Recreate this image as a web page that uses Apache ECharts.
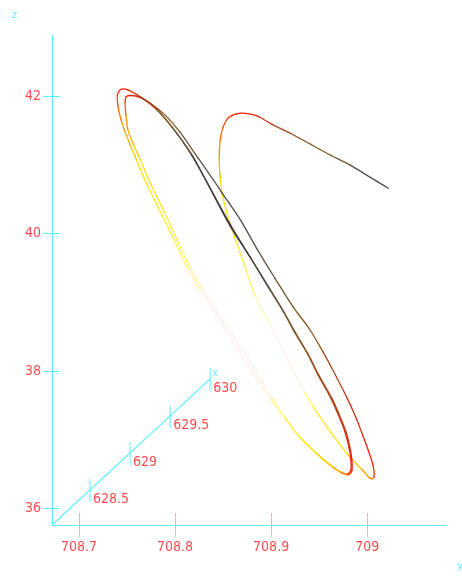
<!DOCTYPE html>
<html>
<head>
<meta charset="utf-8">
<script src="https://cdn.jsdelivr.net/npm/echarts@6/dist/echarts.min.js"></script>
<style>
  html, body { margin: 0; padding: 0; background: #ffffff; }
  #chart { width: 462px; height: 577px; }
</style>
</head>
<body>
<div id="chart"></div>
<script>
// Axis ticks of the three-dimensional box
const yTicks = [708.7, 708.8, 708.9, 709];
const zTicks = [36, 38, 40, 42];
const xTicks = [628.5, 629, 629.5, 630];

// Axis extents
const yRange = [708.672, 709.083];
const zRange = [35.76, 42.89];
const xRange = [628.025, 630];

// The depth (x) axis is drawn obliquely: shift in (y, z) per unit of x
const depthDir = [0.08333, 1.0764];

// Trajectory in the projected (y, z) plane, with its colour value
const pathY = [
  709.022, 709.003, 708.982, 708.962, 708.941, 708.920, 708.901, 708.886, 708.873, 708.863,
  708.855, 708.850, 708.847, 708.846, 708.847, 708.850, 708.856, 708.865, 708.874, 708.883,
  708.899, 708.920, 708.935, 708.944, 708.962, 708.980, 708.995, 709.003, 709.007, 709.006,
  709.001, 708.996, 708.988, 708.979, 708.967, 708.954, 708.939, 708.923, 708.904, 708.886,
  708.868, 708.849, 708.840, 708.824, 708.805, 708.790, 708.774, 708.762, 708.753, 708.749,
  708.748, 708.749, 708.751, 708.757, 708.764, 708.775, 708.789, 708.803, 708.816, 708.829,
  708.855, 708.880, 708.901, 708.914, 708.929, 708.946, 708.962, 708.972, 708.979, 708.983,
  708.983, 708.981, 708.977, 708.970, 708.962, 708.949, 708.938, 708.925, 708.913, 708.897,
  708.878, 708.857, 708.833, 708.816, 708.797, 708.779, 708.764, 708.751, 708.744, 708.740,
  708.741, 708.744, 708.748, 708.754, 708.760, 708.771, 708.785, 708.800, 708.813, 708.826,
  708.853, 708.878, 708.900, 708.914, 708.930, 708.948, 708.964, 708.974, 708.980, 708.984,
  708.984, 708.982, 708.978, 708.971, 708.963, 708.950, 708.939, 708.926, 708.914, 708.898,
  708.879, 708.858, 708.834, 708.817, 708.798, 708.781, 708.766
];
const pathZ = [
  40.66, 40.82, 41.00, 41.14, 41.30, 41.46, 41.59, 41.71, 41.75, 41.74,
  41.68, 41.55, 41.36, 41.10, 40.81, 40.52, 40.20, 39.83, 39.47, 39.11,
  38.67, 38.09, 37.69, 37.48, 37.11, 36.78, 36.56, 36.44, 36.46, 36.63,
  36.85, 37.04, 37.33, 37.61, 37.94, 38.28, 38.63, 38.93, 39.35, 39.76,
  40.20, 40.59, 40.78, 41.10, 41.48, 41.72, 41.90, 41.99, 42.01, 41.99,
  41.90, 41.72, 41.51, 41.29, 41.07, 40.71, 40.31, 39.88, 39.50, 39.18,
  38.63, 38.09, 37.61, 37.33, 37.05, 36.82, 36.63, 36.53, 36.50, 36.56,
  36.71, 36.89, 37.11, 37.36, 37.61, 37.94, 38.25, 38.55, 38.86, 39.22,
  39.66, 40.12, 40.75, 41.17, 41.55, 41.83, 41.99, 42.09, 42.10, 42.01,
  41.83, 41.65, 41.48, 41.27, 41.07, 40.71, 40.31, 39.88, 39.50, 39.18,
  38.60, 38.04, 37.58, 37.32, 37.04, 36.79, 36.60, 36.52, 36.49, 36.55,
  36.71, 36.89, 37.11, 37.36, 37.61, 37.93, 38.23, 38.54, 38.84, 39.21,
  39.64, 40.12, 40.73, 41.16, 41.53, 41.81, 41.97
];
const pathC = [
  0.05, 0.08, 0.15, 0.22, 0.27, 0.32, 0.38, 0.44, 0.50, 0.50,
  0.52, 0.55, 0.60, 0.65, 0.72, 0.76, 0.78, 0.80, 0.82, 0.88,
  1.00, 1.00, 0.95, 0.82, 0.78, 0.74, 0.68, 0.62, 0.55, 0.50,
  0.47, 0.45, 0.42, 0.40, 0.37, 0.33, 0.30, 0.25, 0.18, 0.12,
  0.10, 0.10, 0.12, 0.16, 0.20, 0.26, 0.32, 0.40, 0.46, 0.50,
  0.55, 0.60, 0.66, 0.70, 0.75, 0.78, 0.80, 0.83, 0.88, 0.97,
  1.00, 1.00, 0.96, 0.87, 0.80, 0.76, 0.70, 0.65, 0.60, 0.52,
  0.47, 0.45, 0.43, 0.40, 0.37, 0.33, 0.30, 0.26, 0.20, 0.13,
  0.07, 0.04, 0.05, 0.10, 0.20, 0.30, 0.40, 0.48, 0.50, 0.53,
  0.58, 0.62, 0.66, 0.70, 0.74, 0.77, 0.80, 0.83, 0.88, 0.97,
  1.00, 1.00, 0.95, 0.86, 0.80, 0.76, 0.70, 0.64, 0.58, 0.50,
  0.46, 0.44, 0.42, 0.40, 0.37, 0.33, 0.30, 0.26, 0.20, 0.13,
  0.07, 0.04, 0.05, 0.12, 0.22, 0.32, 0.42
];

const AXIS = '#5ef0ff';
const LABEL = '#ff4d4d';
const FONT = "'Liberation Sans Narrow', 'DejaVu Sans Condensed', sans-serif";

function project(x, y, z) {
  return [y + (x - xRange[0]) * depthDir[0], z + (x - xRange[0]) * depthDir[1]];
}

// one data item per segment of the trajectory
const segments = [];
for (let i = 0; i < pathY.length - 1; i++) {
  segments.push([pathY[i], pathZ[i], (pathC[i] + pathC[i + 1]) / 2]);
}

function renderSegment(params, api) {
  const n = pathY.length;
  const i = params.dataIndex;
  const pt = k => {
    const j = Math.max(0, Math.min(n - 1, k));
    return api.coord([pathY[j], pathZ[j]]);
  };
  const p0 = pt(i - 1), p1 = pt(i), p2 = pt(i + 1), p3 = pt(i + 2);
  return {
    type: 'bezierCurve',
    shape: {
      x1: p1[0], y1: p1[1], x2: p2[0], y2: p2[1],
      cpx1: p1[0] + (p2[0] - p0[0]) / 6, cpy1: p1[1] + (p2[1] - p0[1]) / 6,
      cpx2: p2[0] - (p3[0] - p1[0]) / 6, cpy2: p2[1] - (p3[1] - p1[1]) / 6
    },
    style: { fill: 'none', stroke: api.visual('color'), lineWidth: 1.3, lineCap: 'round' },
    silent: true
  };
}

function renderDepthAxis(params, api) {
  const o = api.coord(project(xRange[0], yRange[0], zRange[0]));
  const e = api.coord(project(xRange[1], yRange[0], zRange[0]));
  const children = [{
    type: 'line',
    shape: { x1: o[0], y1: o[1], x2: e[0], y2: e[1] },
    style: { stroke: AXIS, lineWidth: 1.2 }
  }];
  xTicks.forEach(v => {
    const p = api.coord(project(v, yRange[0], zRange[0]));
    children.push({
      type: 'line',
      shape: { x1: p[0], y1: p[1] - 11, x2: p[0], y2: p[1] + 12 },
      style: { stroke: AXIS, lineWidth: 1 }
    });
    children.push({
      type: 'text', x: p[0] + 3, y: p[1] + 2,
      style: { text: String(v), fill: LABEL, fontSize: 14, fontFamily: FONT, verticalAlign: 'top', align: 'left' }
    });
  });
  children.push({
    type: 'text', x: e[0] + 2, y: e[1] - 11,
    style: { text: 'x', fill: AXIS, fontSize: 11, fontFamily: FONT, verticalAlign: 'top', align: 'left' }
  });
  return { type: 'group', children };
}

const labelStyle = { color: LABEL, fontSize: 14, fontFamily: FONT };

const chart = echarts.init(document.getElementById('chart'), null, { renderer: 'canvas' });
chart.setOption({
  animation: false,
  backgroundColor: '#ffffff',
  grid: { left: 52, top: 35, width: 395, height: 490, containLabel: false },
  xAxis: [
    {
      type: 'value', min: yRange[0], max: yRange[1], position: 'bottom',
      axisLine: { show: true, onZero: false, lineStyle: { color: AXIS, width: 1.2 } },
      splitLine: { show: false },
      axisTick: { show: true, length: 12, customValues: yTicks, lineStyle: { color: AXIS } },
      axisLabel: Object.assign({ customValues: yTicks, margin: 15, formatter: v => String(v) }, labelStyle)
    },
    {
      type: 'value', min: yRange[0], max: yRange[1], position: 'bottom', offset: 0,
      axisLine: { show: false, onZero: false },
      splitLine: { show: false },
      axisTick: { show: true, inside: true, length: 12, customValues: yTicks, lineStyle: { color: AXIS } },
      axisLabel: { show: false }
    }
  ],
  yAxis: [
    {
      type: 'value', min: zRange[0], max: zRange[1], position: 'left',
      axisLine: { show: true, onZero: false, lineStyle: { color: AXIS, width: 1.2 } },
      splitLine: { show: false },
      axisTick: { show: true, length: 9, customValues: zTicks, lineStyle: { color: AXIS } },
      axisLabel: Object.assign({ customValues: zTicks, margin: 11, formatter: v => String(v) }, labelStyle)
    },
    {
      type: 'value', min: zRange[0], max: zRange[1], position: 'left', offset: 0,
      axisLine: { show: false, onZero: false },
      splitLine: { show: false },
      axisTick: { show: true, inside: true, length: 8, customValues: zTicks, lineStyle: { color: AXIS } },
      axisLabel: { show: false }
    }
  ],
  visualMap: {
    type: 'continuous', show: false, seriesIndex: 1, dimension: 2, min: 0, max: 1,
    inRange: {
      color: ['#303038', '#5a5048', '#7a5a1e', '#b0401a', '#ff1a00', '#ff8a00', '#ffe000', '#fffa70', '#fdeefa']
    }
  },
  graphic: [
    { type: 'text', left: 12, top: 10, style: { text: 'z', fill: AXIS, fontSize: 11, fontFamily: FONT } },
    { type: 'text', left: 457, top: 561, style: { text: 'y', fill: AXIS, fontSize: 11, fontFamily: FONT } }
  ],
  series: [
    {
      type: 'custom', name: 'depth axis', xAxisIndex: 0, yAxisIndex: 0, clip: false, silent: true,
      data: [[yRange[0], zRange[0]]],
      renderItem: renderDepthAxis
    },
    {
      type: 'custom', name: 'trajectory', xAxisIndex: 0, yAxisIndex: 0, clip: false, silent: true,
      data: segments,
      encode: { x: 0, y: 1 },
      renderItem: renderSegment
    }
  ]
});
</script>
</body>
</html>
